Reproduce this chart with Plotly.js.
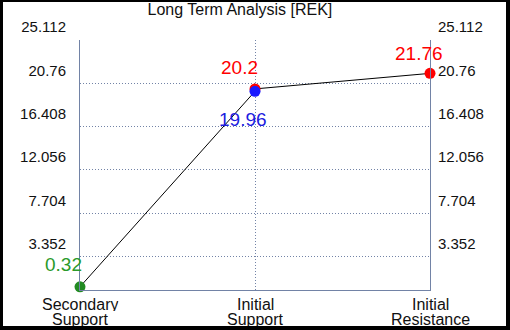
<!DOCTYPE html>
<html>
<head>
<meta charset="utf-8">
<script src="https://cdn.plot.ly/plotly-3.0.1.min.js"></script>
<style>
html,body{margin:0;padding:0;background:#000;width:510px;height:330px;overflow:hidden;}
#chart{position:absolute;left:3px;top:2px;width:503px;height:324px;background:#fff;}
</style>
</head>
<body>
<div id="chart"></div>
<script>
// Data
const categories = ["Secondary<br>Support", "Initial<br>Support", "Initial<br>Resistance"];
const lineX = [0, 1, 1, 2];
const lineY = [0.32, 19.96, 20.2, 21.76];
const pointX = [0, 1, 1, 2];
const pointY = [0.32, 19.96, 20.2, 21.76];
const pointLabels = ["0.32", "19.96", "20.2", "21.76"];
const pointColors = ["#228b22", "#1a1aff", "#ff0000", "#ff0000"];
const labelColors = ["#2a9a2a", "#1c1ce0", "#ff0000", "#ff0000"];
const yTickVals = [3.352, 7.704, 12.056, 16.408, 20.76, 25.112];
const yTickText = ["3.352", "7.704", "12.056", "16.408", "20.76", "25.112"];
const yRange = [0, 25.112];

const FONT = "Liberation Sans, Arial, sans-serif";
const AXC = "#7283a6";
const DOT = "1px,2px";

// label offsets (style)
const labelShift = [
  {xs: -17, ys: 22},
  {xs: -12, ys: -28},
  {xs: -16, ys: 21},
  {xs: -11, ys: 20}
];

const traces = [
  {x: lineX, y: lineY, mode: "lines", line: {color: "#000", width: 1}, hoverinfo: "skip", showlegend: false, cliponaxis: false}
];
// draw order: green, red, red, blue on top
const order = [0, 2, 3, 1];
order.forEach(i => {
  traces.push({x: [pointX[i]], y: [pointY[i]], mode: "markers", cliponaxis: false,
    marker: {color: pointColors[i], size: 11}, showlegend: false, hoverinfo: "skip"});
});

const annotations = pointLabels.map((t, i) => ({
  x: pointX[i], y: pointY[i], xref: "x", yref: "y", text: t, showarrow: false,
  xshift: labelShift[i].xs, yshift: labelShift[i].ys,
  font: {family: FONT, size: 19, color: labelColors[i]}
}));
categories.forEach((c, i) => {
  const lines = c.split("<br>");
  lines.forEach((ln, j) => {
    annotations.push({x: i, y: 0, xref: "x", yref: "paper", text: ln, showarrow: false,
      yanchor: "middle", yshift: -14 - 14.5 * j, height: 14, valign: "middle",
      font: {family: FONT, size: 16, color: "#111"}});
  });
});

const yax = {
  range: yRange, tickmode: "array", tickvals: yTickVals, ticktext: yTickText,
  showgrid: true, gridcolor: AXC, griddash: DOT, gridwidth: 1,
  showline: true, linecolor: AXC, linewidth: 1, zeroline: false, ticks: "",
  tickfont: {family: FONT, size: 15, color: "#111"}, ticklabelshift: -13, fixedrange: true
};

const layout = {
  width: 503, height: 324,
  margin: {l: 77, r: 76, t: 38, b: 36},
  paper_bgcolor: "#fff", plot_bgcolor: "#fff",
  title: {text: "Long Term Analysis [REK]", xref: "container", yref: "container",
    x: 0.471, xanchor: "center", y: 0.977, yanchor: "middle",
    font: {family: FONT, size: 16, color: "#111"}},
  xaxis: {range: [0, 2], tickvals: [0, 1, 2], showticklabels: false, ticks: "",
    showgrid: true, gridcolor: AXC, griddash: DOT, gridwidth: 1,
    showline: true, linecolor: AXC, linewidth: 1, zeroline: false, fixedrange: true},
  yaxis: Object.assign({}, yax, {side: "left", ticklabelstandoff: 10}),
  yaxis2: Object.assign({}, yax, {side: "right", overlaying: "y", showgrid: false, ticklabelstandoff: 4}),
  annotations: annotations,
  showlegend: false
};
// dummy trace to activate yaxis2
traces.push({x: [0], y: [0], yaxis: "y2", mode: "markers", marker: {opacity: 0}, hoverinfo: "skip", showlegend: false});

Plotly.newPlot("chart", traces, layout, {staticPlot: true, displayModeBar: false});
</script>
</body>
</html>
